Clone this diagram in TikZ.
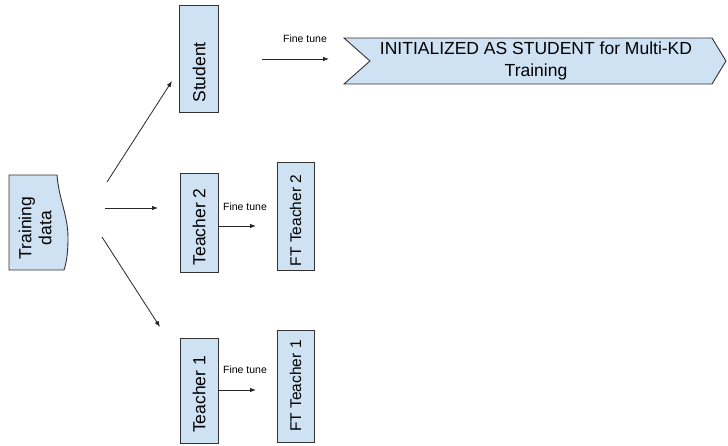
\documentclass[tikz,border=0pt]{standalone}
\usepackage{fontspec}
\setmainfont{Liberation Sans}
\usetikzlibrary{arrows.meta}
\definecolor{boxblue}{HTML}{CFE2F3}
\definecolor{edge}{HTML}{333333}
\begin{document}
\begin{tikzpicture}[x=1pt,y=-1pt,
  box/.style={draw=edge, fill=boxblue, line width=0.9pt, rotate=90, inner sep=0pt,
    font=\fontsize{17.5}{19}\selectfont, align=center},
  ftbox/.style={box, font=\fontsize{15.5}{18}\selectfont},
  arr/.style={draw=black!85, line width=0.8pt, -{Latex[length=6pt,width=4.5pt]}},
  lbl/.style={font=\fontsize{10.5}{12}\selectfont, inner sep=0pt}]
\useasboundingbox (0,0) rectangle (728,445);

% Training data (document-like shape)
\path[draw=edge, fill=boxblue, line width=0.9pt]
  (9,175) -- (57,175) .. controls (59,200) and (68,215) .. (68,238)
  .. controls (68,255) and (66,264) .. (64,270) -- (9,270) -- cycle;
\node[rotate=90, align=center, font=\fontsize{17.5}{20}\selectfont, inner sep=0pt] (td) at (35,228) {Training\\data};

% Student and teachers
\node[box, minimum width=107pt, minimum height=39pt] (st) at (199,58.5) {Student\hspace{28pt}};
\node[box, minimum width=99pt, minimum height=38pt] (t2) at (199,222.5) {Teacher 2\hspace{9pt}};
\node[ftbox, minimum width=108pt, minimum height=37pt] (ft2) at (295.5,216.5) {FT Teacher 2\hspace{8pt}};
\node[box, minimum width=105pt, minimum height=38pt] (t1) at (199,390.5) {Teacher 1\hspace{8pt}};
\node[ftbox, minimum width=112pt, minimum height=37pt] (ft1) at (295.5,386) {FT Teacher 1};

% Chevron
\path[draw=edge, fill=boxblue, line width=0.9pt]
  (344,38) -- (712,38) -- (726,61) -- (712,84) -- (344,84) -- (370,61) -- cycle;
\node[align=center, font=\fontsize{17.5}{22}\selectfont, inner sep=0pt] (init) at (536,61)
  {INITIALIZED AS STUDENT for Multi-KD\\Training};

% connectors from training data
\coordinate (a1s) at (107,182); \coordinate (a1e) at (172,81);
\coordinate (a2s) at (105,208); \coordinate (a2e) at (158,208);
\coordinate (a3s) at (102,237); \coordinate (a3e) at (160,327);
\draw[arr] (a1s) -- (a1e);
\draw[arr] (a2s) -- (a2e);
\draw[arr] (a3s) -- (a3e);

% fine tune arrows
\coordinate (fs) at (262,59); \coordinate (fe) at (329,59);
\draw[arr] (fs) -- (fe);
\node[lbl] (l0) at (305,39) {Fine tune};

\coordinate (f2) at (256,226);
\draw[arr] (t2.south |- f2) -- (f2);
\node[lbl] (l2) at (245,207) {Fine tune};

\coordinate (f1) at (256,390);
\draw[arr] (t1.south |- f1) -- (f1);
\node[lbl] (l1) at (245,370) {Fine tune};
\end{tikzpicture}
\end{document}
